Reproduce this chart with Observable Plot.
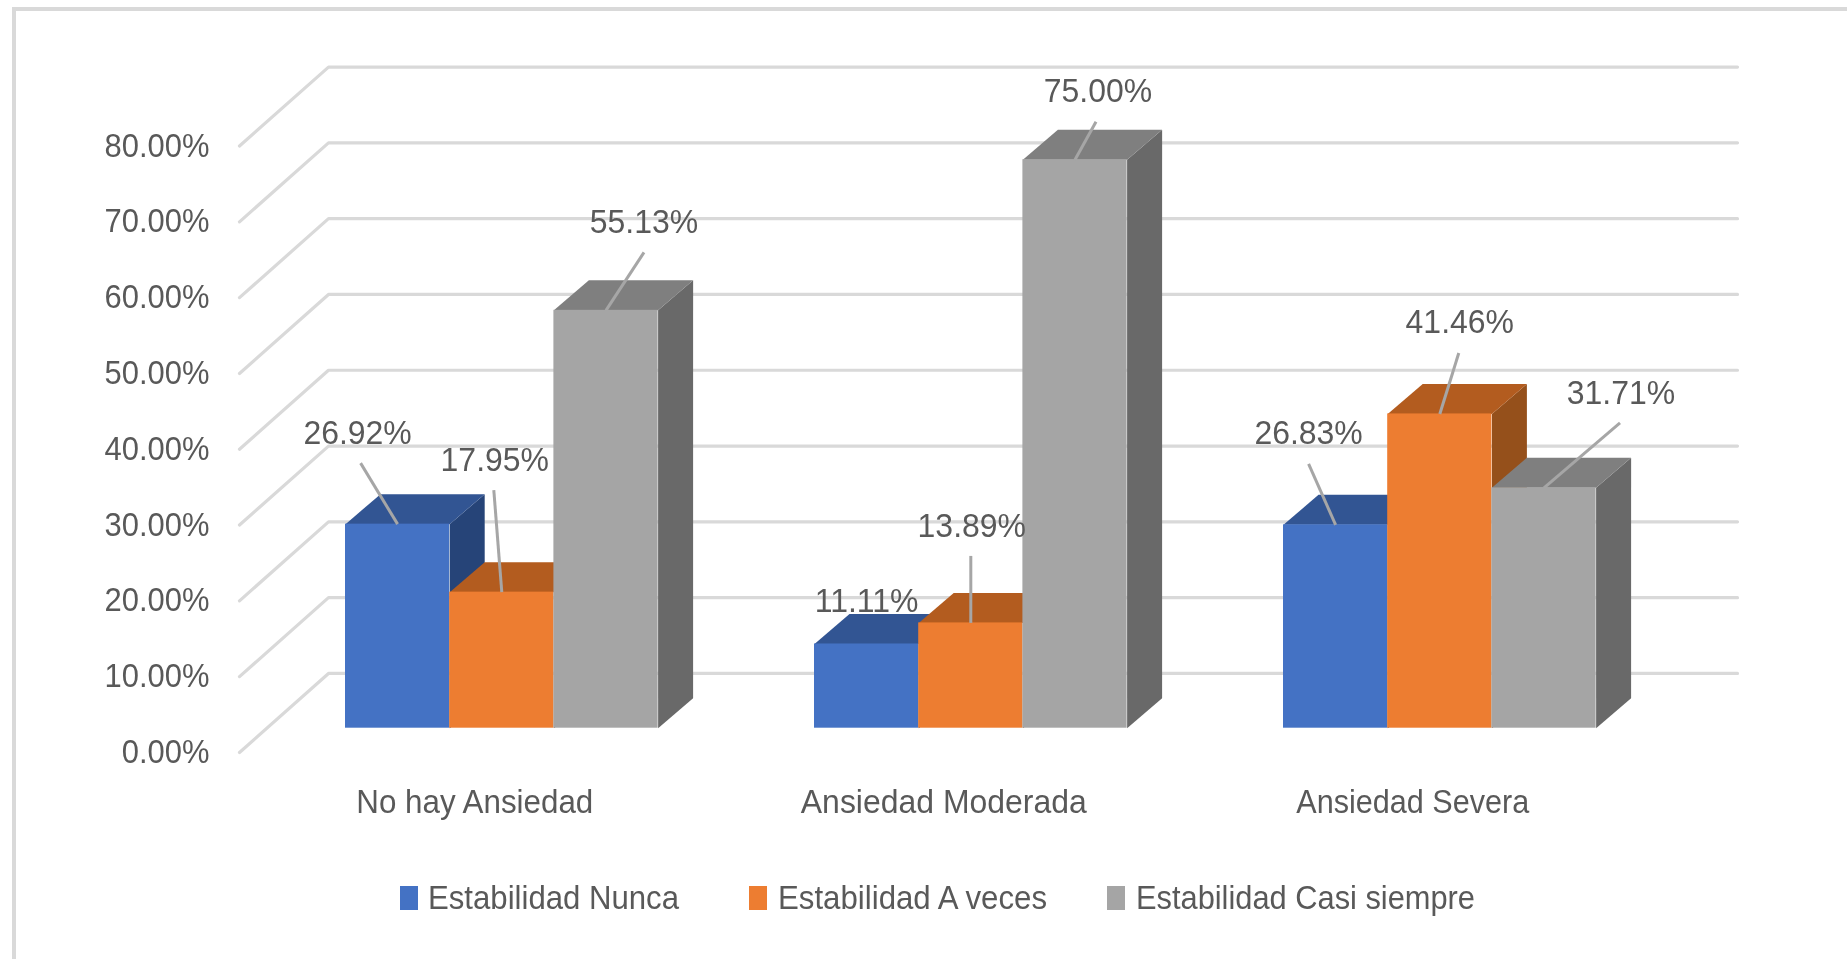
<!DOCTYPE html>
<html>
<head>
<meta charset="utf-8">
<script src="https://cdn.jsdelivr.net/npm/d3@7"></script>
<script src="https://cdn.jsdelivr.net/npm/@observablehq/plot@0.6"></script>
<style>
  html, body { margin: 0; padding: 0; background: #fff; width: 1847px; height: 959px; overflow: hidden; }
  #stage { position: absolute; left: 0; top: 0; width: 1847px; height: 959px; filter: blur(0.6px); }
  #chart { position: absolute; left: 0; top: 0; }
  #frame { position: absolute; left: 12px; top: 7px; right: 0; bottom: 0; border-top: 4px solid #d9d9d9; border-left: 4px solid #d9d9d9; box-sizing: border-box; pointer-events: none; }
  svg text, #legend span { font-family: "Liberation Sans", sans-serif; font-size: 34px; fill: #595959; color: #595959; }
  #legend span.t { position: absolute; top: 876px; line-height: 42px; white-space: nowrap; transform-origin: left center; }
  #legend i { position: absolute; top: 886px; width: 18px; height: 24px; display: block; }
</style>
</head>
<body>
<div id="stage">
<div id="chart"></div>
<div id="frame"></div>
<div id="legend"></div>
</div>
<script>
const categories = ["No hay Ansiedad", "Ansiedad Moderada", "Ansiedad Severa"];
const seriesNames = ["Estabilidad Nunca", "Estabilidad A veces", "Estabilidad Casi siempre"];
const nunca = [26.92, 11.11, 26.83];
const aVeces = [17.95, 13.89, 41.46];
const casiSiempre = [55.13, 75.0, 31.71];
const yTicks = [0, 10, 20, 30, 40, 50, 60, 70, 80];

// palette: front, top, side faces per series
const frontColors = ["#4472c4", "#ed7d31", "#a5a5a5"];
const topColors = ["#325593", "#b35c1f", "#7f7f7f"];
const sideColors = ["#264478", "#95501b", "#696969"];

// layout, in scale units (x: one bar width, y: percentage points)
const pxX = 104.2, pxY = 7.58;
const groupStep = 469 / pxX;
const depthX = 35 / pxX, depthY = 30 / pxY;
const wallFrontX = (239 - 345) / pxX, wallBackX = (328 - 345) / pxX, wallEndX = (1737 - 345) / pxX;
const wallFrontY = -3.2, wallBackY = 7.22;
// leader end and label centre relative to the middle of the bar's top edge, in pixels
const leaderOffsets = [
  [[-37, 61], [-8, 102], [38, 58]],
  [null, [0, 67], [21, 38]],
  [[-27, 61], [19, 61], [76, 65]]
];
const labelOffsets = [
  [[-40, 91], [-7, 132], [38, 88]],
  [[0, 43], [1, 97], [23, 69]],
  [[-27, 92], [20, 92], [77, 95]]
];
// the reference's type is narrower than any installed face: width each text is condensed to
const labelCondense = 0.94;
const tickCondense = 0.91;
const categoryWidths = [237, 286, 233];
const legendWidths = [251, 269, 339];

const seriesValues = [nunca, aVeces, casiSiempre];
const bars = [];
categories.forEach((c, g) => seriesNames.forEach((s, i) => {
  const x1 = g * groupStep + i;
  bars.push({category: c, series: s, g, i, x1, x2: x1 + 1, xm: x1 + 0.5, value: seriesValues[i][g]});
}));

const gridLines = yTicks.flatMap(v => [
  {v, x: wallFrontX, y: v + wallFrontY},
  {v, x: wallBackX, y: v + wallBackY},
  {v, x: wallEndX, y: v + wallBackY}
]);

const barMarks = bars.flatMap(b => {
  const {x1, x2, value: v, i} = b;
  const side = [
    {x: x2, y: 0}, {x: x2 + depthX, y: depthY},
    {x: x2 + depthX, y: v + depthY}, {x: x2, y: v}
  ];
  const top = [
    {x: x1, y: v}, {x: x2, y: v},
    {x: x2 + depthX, y: v + depthY}, {x: x1 + depthX, y: v + depthY}
  ];
  return [
    Plot.line(side, {x: "x", y: "y", fill: sideColors[i], stroke: "none"}),
    Plot.line(top, {x: "x", y: "y", fill: topColors[i], stroke: "none"}),
    Plot.rect([b], {x1: "x1", x2: "x2", y1: 0, y2: "value", fill: "series"})
  ];
});

const labelled = bars.map(b => {
  const lead = leaderOffsets[b.g][b.i], lab = labelOffsets[b.g][b.i];
  return {
    ...b,
    lead,
    lx: b.xm + (lead ? lead[0] : 0) / pxX,
    ly: b.value + (lead ? lead[1] : 0) / pxY,
    tx: b.xm + lab[0] / pxX,
    ty: b.value + lab[1] / pxY,
    text: b.value.toFixed(2) + "%"
  };
});

const groupCenters = categories.map((c, g) => g * groupStep + 1.5);
const tickTexts = yTicks.map(d => d.toFixed(2) + "%");

const plot = Plot.plot({
  width: 1847,
  height: 850,
  marginLeft: 216,
  marginRight: 0,
  marginTop: 0,
  marginBottom: 850 - 727.7,
  style: {background: "transparent", overflow: "visible"},
  x: {domain: [0, 1], range: [345, 345 + pxX]},
  y: {domain: [0, 80], range: [727.7, 727.7 - 80 * pxY]},
  color: {domain: seriesNames, range: frontColors},
  marks: [
    Plot.line(gridLines, {x: "x", y: "y", z: "v", stroke: "#d9d9d9", strokeWidth: 3.2, curve: "linear"}),
    Plot.axisY({ticks: yTicks, tickSize: 0, tickPadding: 7, dy: 24, label: null, tickFormat: d => d.toFixed(2) + "%"}),
    Plot.axisX({ticks: groupCenters, tickSize: 0, tickPadding: 61, dx: -27, label: null, tickFormat: (d, k) => categories[k]}),
    ...barMarks,
    Plot.link(labelled.filter(d => d.lead), {x1: "xm", y1: "value", x2: "lx", y2: "ly", stroke: "#a6a6a6", strokeWidth: 3}),
    Plot.text(labelled, {x: "tx", y: "ty", text: "text", textAnchor: "middle", lineAnchor: "middle"})
  ]
});
document.getElementById("chart").appendChild(plot);

plot.querySelectorAll("text").forEach(el => {
  const s = el.textContent.trim();
  const k = categories.indexOf(s);
  const w = el.getComputedTextLength();
  const target = k >= 0 ? categoryWidths[k] : w * (tickTexts.includes(s) ? tickCondense : labelCondense);
  el.setAttribute("textLength", target);
  el.setAttribute("lengthAdjust", "spacingAndGlyphs");
});

const color = plot.scale("color");
const legend = document.getElementById("legend");
const swatchLeft = [400, 748.5, 1107], textLeft = [428, 778, 1136];
seriesNames.forEach((s, i) => {
  const sw = document.createElement("i");
  sw.style.left = swatchLeft[i] + "px";
  sw.style.background = color.apply(s);
  legend.appendChild(sw);
  const t = document.createElement("span");
  t.className = "t";
  t.style.left = textLeft[i] + "px";
  t.textContent = s;
  legend.appendChild(t);
  t.style.transform = `scaleX(${legendWidths[i] / t.getBoundingClientRect().width})`;
});
</script>
</body>
</html>
